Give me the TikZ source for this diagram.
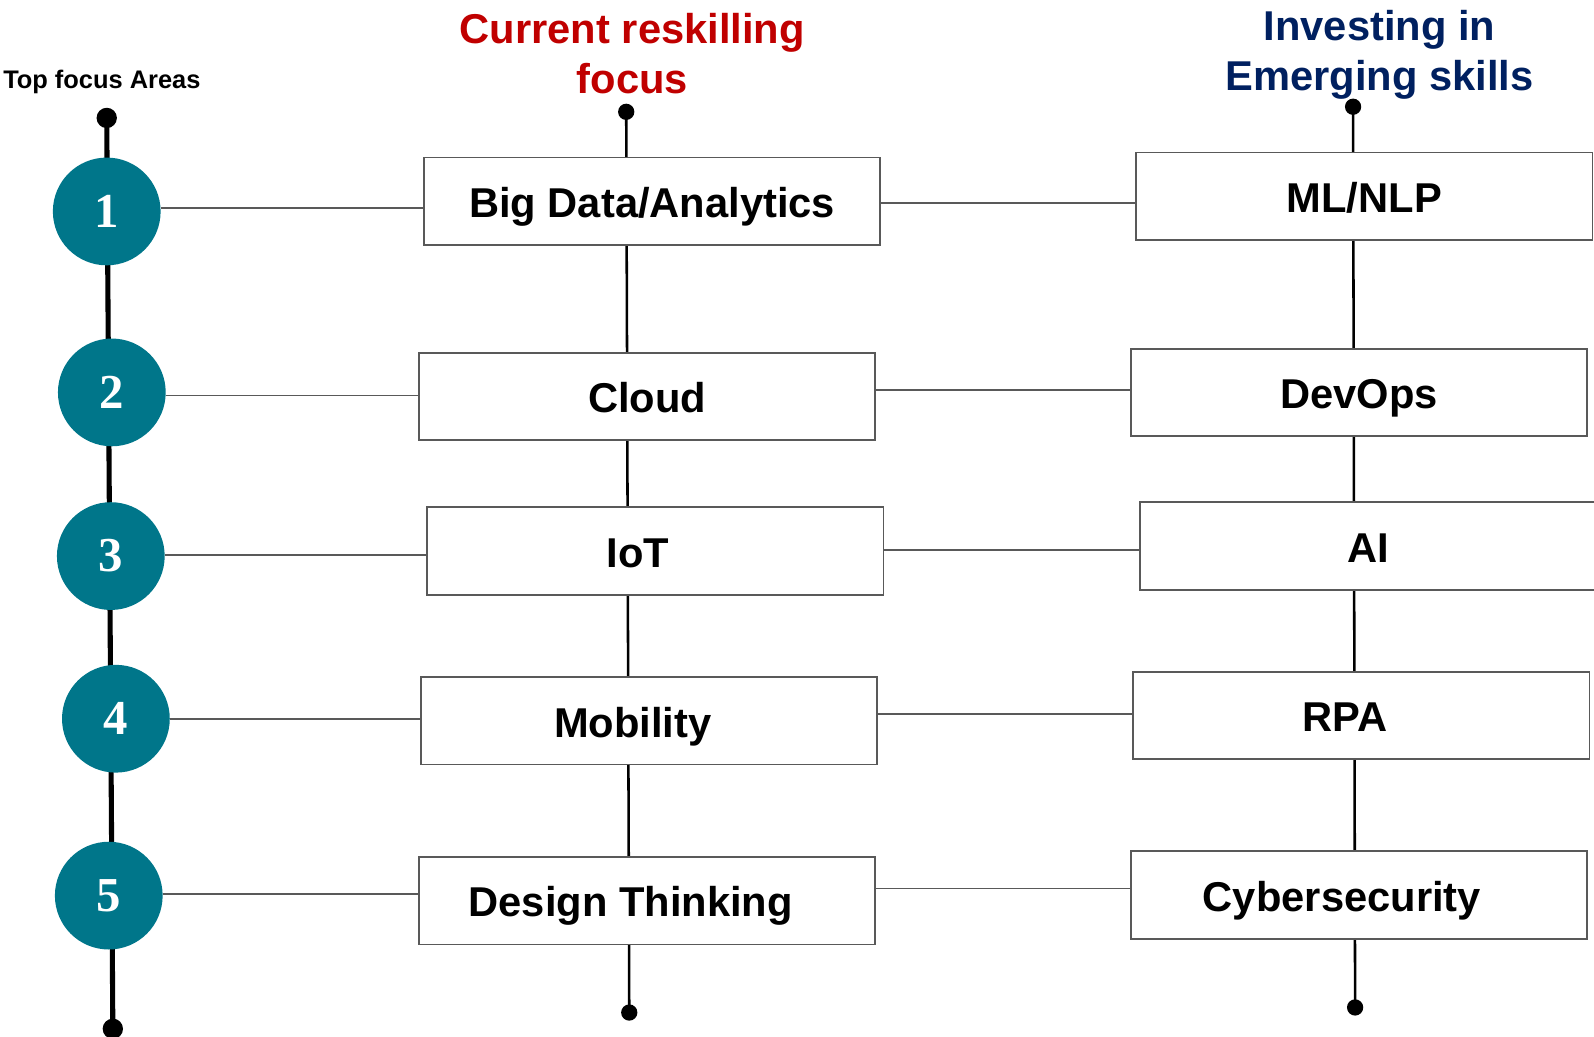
\documentclass[tikz,border=0pt]{standalone}
\usepackage{fontspec}
\setmainfont{Liberation Sans}
\newfontfamily\numfont{Liberation Serif}
\usepackage{tikz}
\usetikzlibrary{positioning}
\definecolor{tealc}{HTML}{00768A}
\definecolor{redhead}{HTML}{C00000}
\definecolor{bluehead}{HTML}{002060}
\definecolor{edgegray}{HTML}{595959}

\begin{document}
\begin{tikzpicture}[x=1pt,y=-1pt,
    focus/.style={circle,fill=tealc,text=white,minimum size=106pt,inner sep=0pt,
      font=\numfont\bfseries\fontsize{48}{48}\selectfont},
    skillbox/.style={draw=edgegray,line width=1.8pt,fill=white,minimum width=449pt,
      minimum height=86pt,inner sep=0pt,text height=32pt,text depth=0pt,
      font=\bfseries\fontsize{41}{41}\selectfont},
    heading/.style={align=center,font=\bfseries\fontsize{41}{49}\selectfont},
    link/.style={draw=edgegray,line width=1.8pt},
    stem/.style={line width=2.5pt}]
    \useasboundingbox (0,0) rectangle (1568,1020);

    % headings
    \node[anchor=base west,inner sep=0pt,font=\bfseries\fontsize{25}{25}\selectfont] (toplabel) at (3,87) {Top focus Areas};
    \node[heading,text=redhead] (curhead) at (622,53) {Current reskilling\\focus};
    \node[heading,text=bluehead] (emghead) at (1357,54) {Investing in\\Emerging skills};

    % stems
    \coordinate (ltop) at (105,116);
    \coordinate (lbot) at (111,1012);
    \coordinate (mtop) at (616,110);
    \coordinate (mbot) at (619,996);
    \coordinate (rtop) at (1331,105);
    \coordinate (rbot) at (1333,991);
    \draw[line width=5pt] (ltop) -- (lbot);
    \draw[stem] (mtop) -- (mbot);
    \draw[stem] (rtop) -- (rbot);
    \fill (ltop) circle (10pt);
    \fill (lbot) circle (10pt);
    \fill (mtop) circle (8pt);
    \fill (mbot) circle (8pt);
    \fill (rtop) circle (8pt);
    \fill (rbot) circle (8pt);

    % focus areas
    \node[focus] (c1) at (105,208) {1};
    \node[focus] (c2) at (110,386) {2};
    \node[focus] (c3) at (109,547) {3};
    \node[focus] (c4) at (114,707) {4};
    \node[focus] (c5) at (107,881) {5};

    % current reskilling
    \node[skillbox] (m1) at (641.5,198) {Big Data/Analytics};
    \node[skillbox] (m2) at (636.5,390) {Cloud};
    \node[skillbox] (m3) at (644.5,542) {\hspace*{-34pt}IoT};
    \node[skillbox] (m4) at (638.5,709) {\hspace*{-32pt}Mobility};
    \node[skillbox] (m5) at (636.5,886) {\hspace*{-32pt}Design Thinking};

    % emerging skills
    \node[skillbox] (r1) at (1342,193) {ML/NLP};
    \node[skillbox] (r2) at (1337,386) {DevOps};
    \node[skillbox] (r3) at (1346,537) {AI};
    \node[skillbox] (r4) at (1339,704) {\hspace*{-32pt}RPA};
    \node[skillbox] (r5) at (1337,880.5) {\hspace*{-34pt}Cybersecurity};

    % links
    \draw[link] ([yshift=3pt]c1.east) -- ([yshift=3pt]c1.east -| m1.west);
    \draw[link] ([yshift=-3pt]c2.east) -- ([yshift=-3pt]c2.east -| m2.west);
    \draw[link] ([yshift=1pt]c3.east) -- ([yshift=1pt]c3.east -| m3.west);
    \draw[link] (c4.east) -- (c4.east -| m4.west);
    \draw[link] ([yshift=2pt]c5.east) -- ([yshift=2pt]c5.east -| m5.west);
    \draw[link] ([yshift=-2pt]m1.east) -- ([yshift=-2pt]m1.east -| r1.west);
    \draw[link] ([yshift=6pt]m2.east) -- ([yshift=6pt]m2.east -| r2.west);
    \draw[link] ([yshift=1pt]m3.east) -- ([yshift=1pt]m3.east -| r3.west);
    \draw[link] ([yshift=7pt]m4.east) -- ([yshift=7pt]m4.east -| r4.west);
    \draw[link] ([yshift=12pt]m5.east) -- ([yshift=12pt]m5.east -| r5.west);
\end{tikzpicture}
\end{document}
